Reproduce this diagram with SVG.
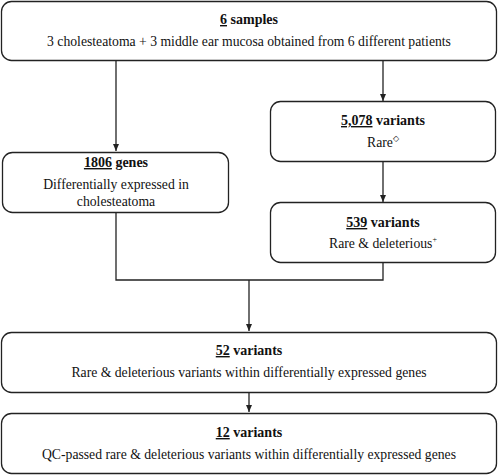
<svg xmlns="http://www.w3.org/2000/svg" width="498" height="476" viewBox="0 0 498 476">
<style>
.box{fill:#fff;stroke:#222;stroke-width:1.3}
.c{fill:none;stroke:#222;stroke-width:1.3}
</style>
<defs>
<marker id="ah" markerWidth="8" markerHeight="8" refX="7" refY="4" orient="auto" markerUnits="userSpaceOnUse">
<path d="M0,1 L7,4 L0,7 Z" fill="#222"/>
</marker>
</defs>
<rect width="498" height="476" fill="#fff"/>
<g id="connectors">
<path class="c" d="M116,61 V151" marker-end="url(#ah)"/>
<path class="c" d="M383,61 V101" marker-end="url(#ah)"/>
<path class="c" d="M383,162 V202" marker-end="url(#ah)"/>
<path class="c" d="M116,213 V280 H383 V263"/>
<path class="c" d="M249,280 V331" marker-end="url(#ah)"/>
<path class="c" d="M249,393 V412" marker-end="url(#ah)"/>
</g>
<g font-family="Liberation Serif, Times New Roman, serif" font-size="13.7" fill="#111" text-anchor="middle">
<g id="n1">
<rect class="box" x="1.5" y="1.5" width="495" height="59" rx="10"/>
<text x="249" y="24" font-weight="bold" font-size="14"><tspan text-decoration="underline">6</tspan> samples</text>
<text x="249" y="46">3 cholesteatoma + 3 middle ear mucosa obtained from 6 different patients</text>
</g>
<g id="n2">
<rect class="box" x="270.5" y="101.5" width="225" height="60" rx="10"/>
<text x="383" y="125" font-weight="bold" font-size="14"><tspan text-decoration="underline">5,078</tspan> variants</text>
<text x="383" y="147">Rare<tspan font-size="8" dy="-6">◇</tspan></text>
</g>
<g id="n3">
<rect class="box" x="2.5" y="152.5" width="226" height="60" rx="10"/>
<text x="116" y="167" font-weight="bold" font-size="14"><tspan text-decoration="underline">1806</tspan> genes</text>
<text x="116" y="189">Differentially expressed in</text>
<text x="116" y="206">cholesteatoma</text>
</g>
<g id="n4">
<rect class="box" x="270.5" y="202.5" width="225" height="60" rx="10"/>
<text x="383" y="227" font-weight="bold" font-size="14"><tspan text-decoration="underline">539</tspan> variants</text>
<text x="383" y="248">Rare &amp; deleterious<tspan font-size="8" dy="-6">+</tspan></text>
</g>
<g id="n5">
<rect class="box" x="1.5" y="332.5" width="495" height="60" rx="10"/>
<text x="249" y="355" font-weight="bold" font-size="14"><tspan text-decoration="underline">52</tspan> variants</text>
<text x="249" y="377">Rare &amp; deleterious variants within differentially expressed genes</text>
</g>
<g id="n6">
<rect class="box" x="1.5" y="413.5" width="495" height="60" rx="10"/>
<text x="249" y="437" font-weight="bold" font-size="14"><tspan text-decoration="underline">12</tspan> variants</text>
<text x="249" y="459">QC-passed rare &amp; deleterious variants within differentially expressed genes</text>
</g>
</g>
</svg>
